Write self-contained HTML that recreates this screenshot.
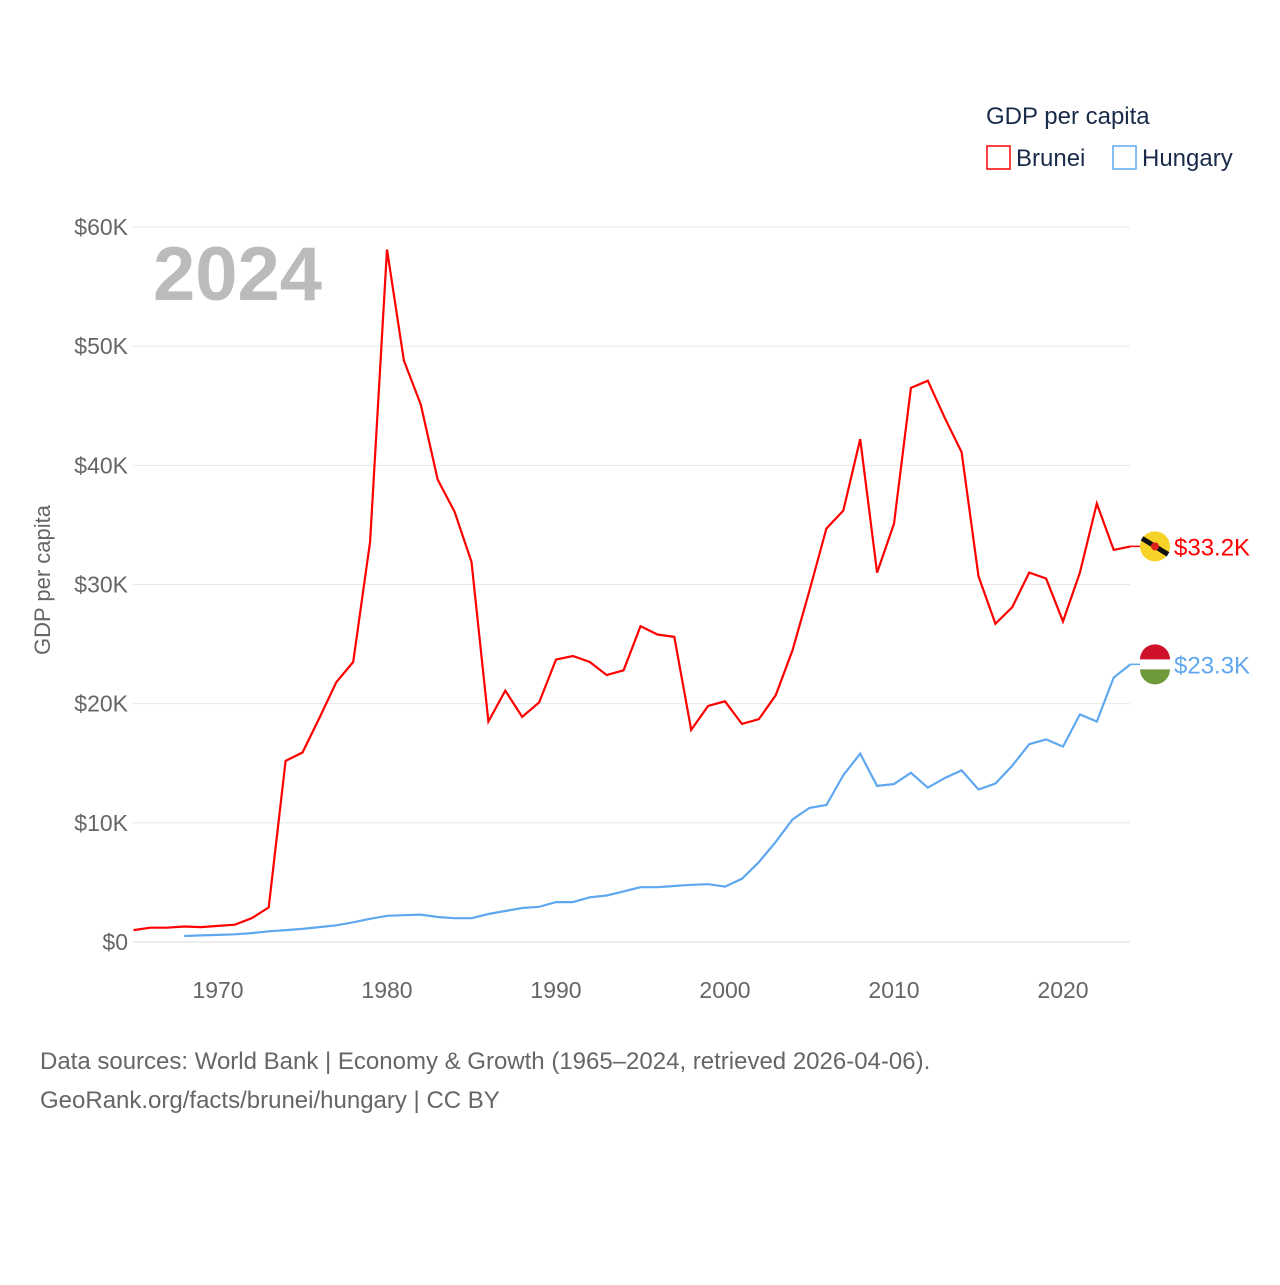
<!DOCTYPE html>
<html><head><meta charset="utf-8"><style>
body{margin:0;background:#fff;font-family:"Liberation Sans",sans-serif}
svg text{font-family:"Liberation Sans",sans-serif}
</style></head><body>
<svg width="1280" height="1280" viewBox="0 0 1280 1280">
<g id="grid"></g>
<g id="yt"></g>
<g id="xt"></g>
<text x="153" y="300" font-size="76" font-weight="bold" fill="#bbb">2024</text>
<text transform="translate(50,580) rotate(-90)" text-anchor="middle" font-size="22" fill="#666">GDP per capita</text>
<text x="986" y="124" font-size="24" fill="#1a2b4a">GDP per capita</text>
<g><rect x="987" y="146" width="23" height="23" fill="none" stroke="#f00" stroke-width="1.5"/><text x="1016" y="166" font-size="24" fill="#1a2b4a">Brunei</text></g>
<g><rect x="1113" y="146" width="23" height="23" fill="none" stroke="#5fa8f0" stroke-width="1.5"/><text x="1142" y="166" font-size="24" fill="#1a2b4a">Hungary</text></g>
<path id="lb" fill="none" stroke="#f00" stroke-width="2.2"/>
<path id="lh" fill="none" stroke="#5fa8f0" stroke-width="2.2"/>
<g id="ends"></g>
<text x="40" y="1069" font-size="24" fill="#666">Data sources: World Bank | Economy &amp; Growth (1965–2024, retrieved 2026-04-06).</text>
<text x="40" y="1108" font-size="24" fill="#666">GeoRank.org/facts/brunei/hungary | CC BY</text>
</svg>
<script>
const bruneiYears=[1965,1966,1967,1968,1969,1970,1971,1972,1973,1974,1975,1976,1977,1978,1979,1980,1981,1982,1983,1984,1985,1986,1987,1988,1989,1990,1991,1992,1993,1994,1995,1996,1997,1998,1999,2000,2001,2002,2003,2004,2005,2006,2007,2008,2009,2010,2011,2012,2013,2014,2015,2016,2017,2018,2019,2020,2021,2022,2023,2024];
const bruneiValues=[1.0,1.2,1.2,1.3,1.25,1.35,1.45,2.0,2.9,15.2,15.9,18.8,21.8,23.5,33.6,58.1,48.8,45.1,38.8,36.1,31.9,18.5,21.1,18.9,20.1,23.7,24.0,23.5,22.4,22.8,26.5,25.8,25.6,17.8,19.8,20.2,18.3,18.7,20.7,24.5,29.5,34.7,36.2,42.2,31.0,35.1,46.5,47.1,44.0,41.1,30.7,26.7,28.1,31.0,30.5,26.9,31.0,36.8,32.9,33.2];
const hungaryYears=[1968,1969,1970,1971,1972,1973,1974,1975,1976,1977,1978,1979,1980,1981,1982,1983,1984,1985,1986,1987,1988,1989,1990,1991,1992,1993,1994,1995,1996,1997,1998,1999,2000,2001,2002,2003,2004,2005,2006,2007,2008,2009,2010,2011,2012,2013,2014,2015,2016,2017,2018,2019,2020,2021,2022,2023,2024];
const hungaryValues=[0.5,0.55,0.6,0.65,0.75,0.9,1.0,1.1,1.25,1.4,1.65,1.95,2.2,2.25,2.3,2.1,2.0,2.0,2.35,2.6,2.85,2.95,3.35,3.35,3.75,3.9,4.25,4.6,4.6,4.7,4.8,4.85,4.65,5.3,6.7,8.4,10.3,11.25,11.5,14.0,15.8,13.1,13.25,14.2,12.95,13.75,14.4,12.8,13.3,14.8,16.6,17.0,16.4,19.1,18.5,22.2,23.3];
const yTicks=[0,10,20,30,40,50,60];
const xTicks=[1970,1980,1990,2000,2010,2020];
const X=y=>218+(y-1970)*16.9;
const Y=v=>942-v*(715/60);
const NS="http://www.w3.org/2000/svg";
function mk(tag,attrs,parent,txt){const e=document.createElementNS(NS,tag);for(const k in attrs)e.setAttribute(k,attrs[k]);if(txt!=null)e.textContent=txt;parent.appendChild(e);return e;}
const grid=document.getElementById('grid'),yt=document.getElementById('yt'),xt=document.getElementById('xt');
yTicks.forEach(t=>{
 const l=mk('line',{x1:133,x2:1130,y1:Y(t),y2:Y(t),stroke:t===0?'#ddd':'#e8e8e8','stroke-width':1},grid);
 
 
 const tx=mk('text',{x:128,y:Y(t)+8,'text-anchor':'end','font-size':23,fill:'#666'},yt,t===0?'$0':'$'+t+'K');
 
 
});
xTicks.forEach(t=>{
 const tx=mk('text',{x:X(t),y:998,'text-anchor':'middle','font-size':23,fill:'#666'},xt,t);
 
 
});
const path=(ys,vs)=>ys.map((y,i)=>(i?'L':'M')+X(y).toFixed(1)+','+Y(vs[i]).toFixed(1)).join('');
document.getElementById('lb').setAttribute('d',path(bruneiYears,bruneiValues));
document.getElementById('lh').setAttribute('d',path(hungaryYears,hungaryValues));
const ends=document.getElementById('ends');
function endLabel(ys,vs,col,nm){
 const v=vs[vs.length-1],yy=Y(v),xx=X(ys[ys.length-1]);
 const l=mk('line',{x1:xx,x2:xx+14,y1:yy,y2:yy,stroke:col,'stroke-width':1.5},ends);
 
 
 const c=mk('circle',{cx:1155,cy:yy,r:15,fill:nm==='brunei'?'#f7d32a':'#fff'},ends);
 
 
 if(nm==='brunei'){mk('line',{x1:1142,y1:yy-8,x2:1168,y2:yy+8,stroke:'#111','stroke-width':5},ends);mk('circle',{cx:1155,cy:yy,r:4,fill:'#d22'},ends);}
 else{mk('path',{d:`M1140,${yy-5}A15,15 0 0 1 1170,${yy-5}Z`,fill:'#d0112b'},ends);mk('path',{d:`M1140,${yy+5}A15,15 0 0 0 1170,${yy+5}Z`,fill:'#6f9a3c'},ends);}
 const t=mk('text',{x:1174,y:yy+9,'font-size':24,fill:col},ends,'$'+v.toFixed(1)+'K');
 
 
}
endLabel(bruneiYears,bruneiValues,'#f00','brunei');
endLabel(hungaryYears,hungaryValues,'#5fa8f0','hungary');
</script>
</body></html>
